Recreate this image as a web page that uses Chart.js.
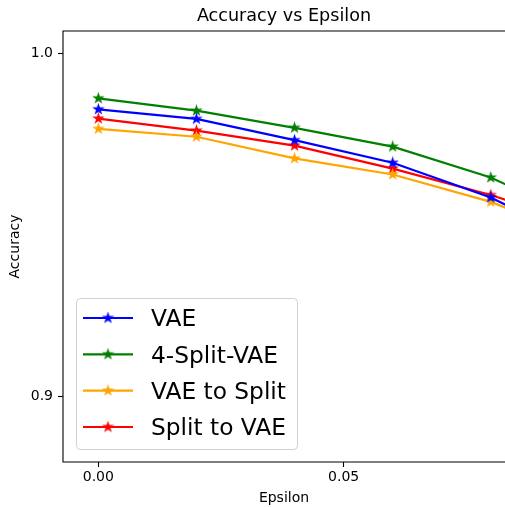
<!DOCTYPE html>
<html>
<head>
<meta charset="utf-8">
<script src="https://cdn.jsdelivr.net/npm/chart.js@4.4.0/dist/chart.umd.min.js"></script>
<style>
  html, body { margin: 0; padding: 0; background: #fff; overflow: hidden; }
  #wrap { width: 505px; height: 507px; overflow: hidden; }
</style>
</head>
<body>
<div id="wrap"><canvas id="chart" width="505" height="507"></canvas></div>
<script>
// values (last point is past the visible edge)
const epsilons = [0, 0.02, 0.04, 0.06, 0.08, 0.10];
const seriesNames = ["VAE", "4-Split-VAE", "VAE to Split", "Split to VAE"];
const vae        = [0.9838, 0.9810, 0.9748, 0.9682, 0.9581, 0.9438];
const split4     = [0.9870, 0.9834, 0.9784, 0.9729, 0.9639, 0.9506];
const vaeToSplit = [0.9781, 0.9758, 0.9695, 0.9648, 0.9568, 0.9454];
const splitToVae = [0.9811, 0.9776, 0.9732, 0.9665, 0.9588, 0.9495];
const seriesColors = ["#0000ff", "#008000", "#ffa500", "#ff0000"];
const xTicks = [0, 0.05];
const yTicks = [0.9, 1.0];

const FONT = "DejaVu Sans";

// matplotlib-like filled star marker
function makeStar(color) {
    const c = document.createElement("canvas");
    c.width = 13; c.height = 13;
    const g = c.getContext("2d");
    const R = 4.6, r = R * 0.382;
    g.beginPath();
    for (let i = 0; i < 10; i++) {
        const rad = i % 2 ? r : R;
        const a = -Math.PI / 2 + i * Math.PI / 5;
        const px = 6.5 + rad * Math.cos(a), py = 6.5 + rad * Math.sin(a);
        if (i == 0) g.moveTo(px, py); else g.lineTo(px, py);
    }
    g.closePath();
    g.fillStyle = color;
    g.strokeStyle = color;
    g.lineWidth = 1.2;
    g.lineJoin = "miter";
    g.fill();
    g.stroke();
    return c;
}

const allValues = [vae, split4, vaeToSplit, splitToVae];
const datasets = allValues.map((vals, i) => ({
    label: seriesNames[i],
    data: epsilons.map((x, j) => ({x: x, y: vals[j]})),
    borderColor: seriesColors[i],
    backgroundColor: seriesColors[i],
    borderWidth: 2.2,
    pointStyle: makeStar(seriesColors[i]),
    pointRadius: 5,
    showLine: true,
    tension: 0,
    clip: false
}));

// left, top and bottom spines; the right one lies past the cropped edge
const framePlugin = {
    id: "frame",
    afterDatasetsDraw(chart) {
        const {ctx, chartArea: a, width} = chart;
        ctx.save();
        ctx.strokeStyle = "#000";
        ctx.lineWidth = 1.1;
        ctx.beginPath();
        ctx.moveTo(width + 2, a.top);
        ctx.lineTo(a.left, a.top);
        ctx.lineTo(a.left, a.bottom);
        ctx.lineTo(width + 2, a.bottom);
        ctx.stroke();
        ctx.restore();
    }
};

const legendPlugin = {
    id: "boxLegend",
    afterDraw(chart) {
        const ctx = chart.ctx;
        const x0 = 76, y0 = 298, w = 221, h = 151;
        ctx.save();
        ctx.beginPath();
        ctx.roundRect(x0 + 0.5, y0 + 0.5, w, h, 4);
        ctx.fillStyle = "rgba(255,255,255,0.8)";
        ctx.fill();
        ctx.strokeStyle = "#d0d0d0";
        ctx.lineWidth = 1;
        ctx.stroke();
        const rowY = [318, 354.3, 390.6, 427];
        chart.data.datasets.forEach((ds, i) => {
            const y = rowY[i];
            ctx.strokeStyle = ds.borderColor;
            ctx.lineWidth = 2.2;
            ctx.beginPath();
            ctx.moveTo(83, y);
            ctx.lineTo(133, y);
            ctx.stroke();
            ctx.drawImage(ds.pointStyle, 108 - 6.5, y - 6.5);
            ctx.fillStyle = "#000";
            ctx.font = `23.3px "${FONT}"`;
            ctx.textBaseline = "alphabetic";
            ctx.fillText(ds.label, 151, y + 8.2);
        });
        ctx.restore();
    }
};

const chart = new Chart(document.getElementById("chart"), {
    type: "scatter",
    data: {datasets: datasets},
    options: {
        responsive: false,
        animation: false,
        layout: {autoPadding: false, padding: {left: 0, right: -2, top: 0, bottom: 0}},
        plugins: {
            legend: {display: false},
            tooltip: {enabled: false},
            title: {
                display: true,
                text: "Accuracy vs Epsilon",
                fullSize: false,
                color: "#000",
                font: {family: FONT, size: 17.6, weight: "normal"},
                padding: {top: 5.5, bottom: 4.4}
            }
        },
        scales: {
            x: {
                min: -0.0072,
                max: 0.0829,
                afterBuildTicks: s => { s.ticks = xTicks.map(v => ({value: v})); },
                afterFit: s => { s.height = 45; s.paddingLeft = 0; s.paddingRight = 0; },
                border: {display: false},
                grid: {drawOnChartArea: false, tickLength: 5, tickColor: "#000", tickWidth: 1.1},
                ticks: {
                    color: "#000",
                    padding: 2,
                    maxRotation: 0,
                    font: {family: FONT, size: 14},
                    callback: v => Number(v).toFixed(2)
                },
                title: {
                    display: true,
                    text: "Epsilon",
                    color: "#000",
                    font: {family: FONT, size: 14},
                    padding: {top: 0, bottom: 0}
                }
            },
            y: {
                min: 0.88096,
                max: 1.00662,
                afterBuildTicks: s => { s.ticks = yTicks.map(v => ({value: v})); },
                afterFit: s => { s.width = 63; s.paddingTop = 0; s.paddingBottom = 0; },
                border: {display: false},
                grid: {drawOnChartArea: false, tickLength: 5, tickColor: "#000", tickWidth: 1.1},
                ticks: {
                    color: "#000",
                    padding: 5,
                    font: {family: FONT, size: 14},
                    callback: v => Number(v).toFixed(1)
                },
                title: {
                    display: true,
                    text: "Accuracy",
                    color: "#000",
                    font: {family: FONT, size: 14},
                    padding: {top: 7, bottom: 0}
                }
            }
        }
    },
    plugins: [framePlugin, legendPlugin]
});
</script>
</body>
</html>
